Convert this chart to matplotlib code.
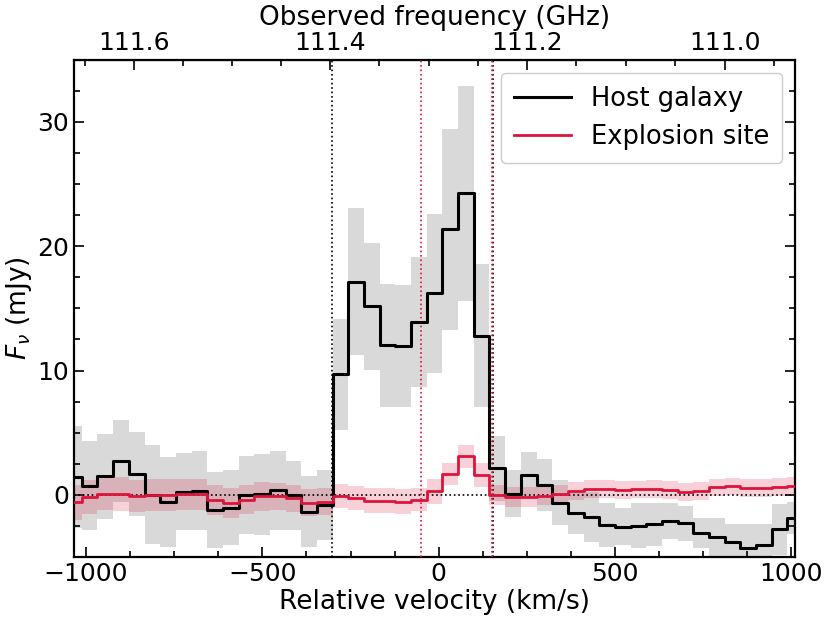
import numpy as np
import matplotlib
matplotlib.use("Agg")
import matplotlib.pyplot as plt
from matplotlib.ticker import MultipleLocator, FixedLocator, FormatStrFormatter

# ---- data ----
velocity = [-1034.0, -989.55, -945.1, -900.65, -856.2, -811.75, -767.3, -722.85, -678.4,
            -633.95, -589.5, -545.05, -500.6, -456.15, -411.7, -367.25, -322.8, -278.35,
            -233.9, -189.45, -145.0, -100.55, -56.1, -11.65, 32.8, 77.25, 121.7, 166.15,
            210.6, 255.05, 299.5, 343.95, 388.4, 432.85, 477.3, 521.75, 566.2, 610.65,
            655.1, 699.55, 744.0, 788.45, 832.9, 877.35, 921.8, 966.25, 1010.7]

host_flux = [1.45, 0.72, 1.48, 2.75, 1.69, 0.02, -0.58, 0.25, 0.33, -1.22, -1.04, 0.0,
             0.05, 0.35, -0.05, -1.37, -0.83,
             9.7, 17.15, 15.16, 12.04, 11.96, 13.9, 16.2, 21.37, 24.25, 12.8,
             2.12, 0.1, 1.56, 0.78, -0.62, -1.48, -1.8, -2.42, -2.55, -2.47, -2.37,
             -2.1, -2.28, -3.09, -3.41, -3.76, -4.3, -4.03, -2.77, -1.88]

host_err = [4.1, 3.57, 3.44, 3.3, 3.4, 4.0, 3.6, 3.1, 3.2, 3.03, 3.0, 3.16, 3.25, 3.2,
            2.75, 2.85, 2.83,
            4.47, 5.92, 5.08, 4.96, 4.89, 5.2, 6.38, 8.1, 8.68, 5.74,
            2.62, 1.9, 1.85, 2.1, 1.84, 1.67, 2.0, 1.75, 1.5, 1.8, 1.75, 1.43, 1.4,
            1.2, 1.53, 1.42, 1.96, 1.69, 2.04, 1.3]

site_flux = [-0.59, -0.16, 0.1, 0.05, -0.1, -0.03, -0.03, 0.05, 0.05, -0.4, -0.68,
             -0.4, -0.13, -0.13, -0.27, -0.62, -0.54,
             -0.1, -0.24, -0.48, -0.48, -0.56, -0.38, 0.27, 1.69, 3.09, 1.61,
             0.0, -0.19, -0.19, -0.08, 0.08, 0.32, 0.48, 0.48, 0.38, 0.43, 0.48,
             0.38, 0.22, 0.32, 0.59, 0.67, 0.56, 0.54, 0.62, 0.73]

site_err = [1.4, 1.35, 1.3, 1.35, 1.3, 1.3, 1.3, 1.25, 1.25, 1.2, 1.2, 1.15, 1.15, 1.1,
            1.1, 1.1, 1.1,
            0.95, 0.95, 1.0, 1.0, 1.0, 0.9, 1.0, 0.9, 0.95, 0.95,
            0.8, 0.8, 0.8, 0.75, 0.75, 0.75, 0.7, 0.7, 0.7, 0.7, 0.7, 0.7, 0.7,
            0.7, 0.7, 0.7, 0.7, 0.7, 0.7, 0.7]

host_range = [-302, 154]
site_range = [-50, 150]

freq_ticks = [111.6, 111.4, 111.2, 111.0]
freq_minor = [111.65, 111.55, 111.5, 111.45, 111.35, 111.3, 111.25, 111.15, 111.1,
              111.05, 110.95]

F_REST = 115.271      # GHz
F_SYS = 111.2897      # GHz, observed systemic frequency
C_KMS = 299792.458

# ---- plot ----
plt.rcParams['font.family'] = ['DejaVu Sans']
fig = plt.figure(figsize=(8.31, 6.23), dpi=100)
ax = fig.add_axes([0.089, 0.106, 0.868, 0.798])

v = np.array(velocity)
hf = np.array(host_flux); he = np.array(host_err)
sf = np.array(site_flux); se = np.array(site_err)

ax.fill_between(v, hf - he, hf + he, step='mid', color='lightgray', alpha=0.85,
                linewidth=0, zorder=1)
ax.fill_between(v, sf - se, sf + se, step='mid', color='crimson', alpha=0.2,
                linewidth=0, zorder=2)
ax.axhline(0, color='k', ls=':', lw=1.2, zorder=3)
for xv in host_range:
    ax.axvline(xv, color='k', ls=':', lw=1.2, zorder=3)
for xv in site_range:
    ax.axvline(xv, color='crimson', ls=':', lw=1.2, zorder=3)
ax.step(v, hf, where='mid', color='k', lw=2.2, label='Host galaxy', zorder=4)
ax.step(v, sf, where='mid', color='crimson', lw=2.0, label='Explosion site', zorder=5)

ax.set_xlim(velocity[0], velocity[-1])
ax.set_ylim(-5, 35)
ax.xaxis.set_major_locator(MultipleLocator(500))
ax.xaxis.set_minor_locator(MultipleLocator(125))
ax.yaxis.set_major_locator(MultipleLocator(10))
ax.yaxis.set_minor_locator(MultipleLocator(2.5))
ax.tick_params(which='both', direction='in', top=False, right=True, labelsize=18, width=1.2)
ax.tick_params(which='major', length=7)
ax.tick_params(which='minor', length=4)
for s in ax.spines.values():
    s.set_linewidth(1.6)

ax.set_xlabel('Relative velocity (km/s)', fontsize=19, labelpad=2)
ax.set_ylabel(r'$F_\nu$ (mJy)', fontsize=19, labelpad=2)


def v2f(vel):
    vel = np.asarray(vel, dtype=float)
    return 1.0 / (vel / (C_KMS * F_REST) + 1.0 / F_SYS)


def f2v(freq):
    freq = np.asarray(freq, dtype=float)
    with np.errstate(divide='ignore', invalid='ignore'):
        return C_KMS * F_REST * (1.0 / freq - 1.0 / F_SYS)


sec = ax.secondary_xaxis('top', functions=(v2f, f2v))
sec.xaxis.set_major_locator(FixedLocator(freq_ticks))
sec.xaxis.set_minor_locator(FixedLocator(freq_minor))
sec.xaxis.set_major_formatter(FormatStrFormatter('%.1f'))
sec.tick_params(which='both', direction='in', labelsize=18, width=1.2)
sec.tick_params(which='major', length=7)
sec.tick_params(which='minor', length=4)
sec.set_xlabel('Observed frequency (GHz)', fontsize=19, labelpad=4)

leg = ax.legend(loc='upper right', fontsize=18.5, framealpha=1.0, handlelength=2.2,
                borderpad=0.5)
leg.get_frame().set_linewidth(1.0)

fig.savefig('out.png', dpi=100)
